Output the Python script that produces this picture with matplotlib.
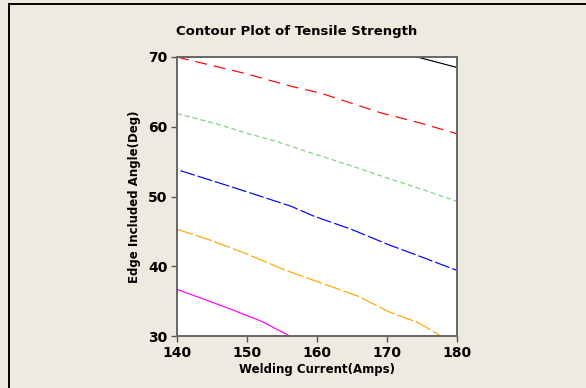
import matplotlib
matplotlib.use("Agg")
import matplotlib.pyplot as plt
from matplotlib.lines import Line2D

# Contour lines: (x = Welding Current, y = Edge Included Angle)
black_x = [174.3, 180.0]
black_y = [70.0, 68.5]

red_x = [140.0, 141.2, 149.9, 156.3, 160.6, 169.1, 174.5, 180.0]
red_y = [70.0, 69.7, 67.6, 65.8, 64.8, 62.0, 60.6, 59.0]

green_x = [140.0, 145.7, 149.9, 154.2, 159.0, 164.9, 170.2, 174.5, 180.0]
green_y = [61.9, 60.4, 59.1, 57.9, 56.3, 54.4, 52.6, 51.2, 49.3]

blue_x = [140.5, 144.6, 149.9, 156.3, 159.5, 164.9, 170.2, 174.5, 180.0]
blue_y = [53.7, 52.4, 50.7, 48.6, 47.2, 45.3, 43.1, 41.5, 39.4]

orange_x = [140.0, 144.6, 149.9, 155.3, 160.6, 165.9, 170.2, 174.5, 177.7]
orange_y = [45.3, 43.8, 41.8, 39.5, 37.6, 35.7, 33.5, 31.9, 30.0]

magenta_x = [140.0, 143.5, 147.8, 152.1, 156.1]
magenta_y = [36.7, 35.4, 33.8, 32.1, 30.0]

xticks = [140, 150, 160, 170, 180]
yticks = [30, 40, 50, 60, 70]

title = "Contour Plot of Tensile Strength"
xlabel = "Welding Current(Amps)"
ylabel = "Edge Included Angle(Deg)"

plt.rcParams['lines.scale_dashes'] = False
plt.rcParams['font.family'] = ['DejaVu Sans']

W, H = 586, 388
bg = '#EEEAE0'
fig = plt.figure(figsize=(W / 100, H / 100), dpi=100, facecolor=bg)

# outer frame (top and left edges visible)
fig.add_artist(Line2D([9 / W, 9 / W], [0, 1 - 4 / H], color='black', lw=1.4,
                      transform=fig.transFigure))
fig.add_artist(Line2D([9 / W, 1], [1 - 4 / H, 1 - 4 / H], color='black', lw=1.4,
                      transform=fig.transFigure))

ax = fig.add_axes([177 / W, 1 - 336 / H, 280 / W, 279 / H])
ax.set_facecolor('white')

lw = 0.85
ax.plot(black_x, black_y, color='black', lw=lw, solid_capstyle='butt')
ax.plot(red_x, red_y, color='#FF0000', lw=lw, dashes=(8.6, 5.0))
ax.plot(green_x, green_y, color='#7DD27D', lw=lw, dashes=(3.6, 2.2))
ax.plot(blue_x, blue_y, color='#0000FF', lw=lw, dashes=(10.8, 2.2))
ax.plot(orange_x, orange_y, color='#FFA500', lw=lw, dashes=(12.0, 2.2))
ax.plot(magenta_x, magenta_y, color='#FF00FF', lw=lw)

ax.set_xlim(140, 180)
ax.set_ylim(30, 70)
ax.set_xticks(xticks)
ax.set_yticks(yticks)
ax.set_xticklabels([str(t) for t in xticks], fontsize=10, fontweight='bold')
ax.set_yticklabels([str(t) for t in yticks], fontsize=10, fontweight='bold')
ax.tick_params(direction='out', length=4, width=1, color='#555555', pad=3)

for s in ax.spines.values():
    s.set_color('#666666')
    s.set_linewidth(1.4)

ax.set_xlabel(xlabel, fontsize=8.5, fontweight='bold', labelpad=2)
ax.set_ylabel(ylabel, fontsize=8.5, fontweight='bold', labelpad=5)

fig.text(297 / W, 1 - 32 / H, title, ha='center', va='center',
         fontsize=9.5, fontweight='bold')

fig.savefig('out.png', dpi=100, facecolor=bg)
